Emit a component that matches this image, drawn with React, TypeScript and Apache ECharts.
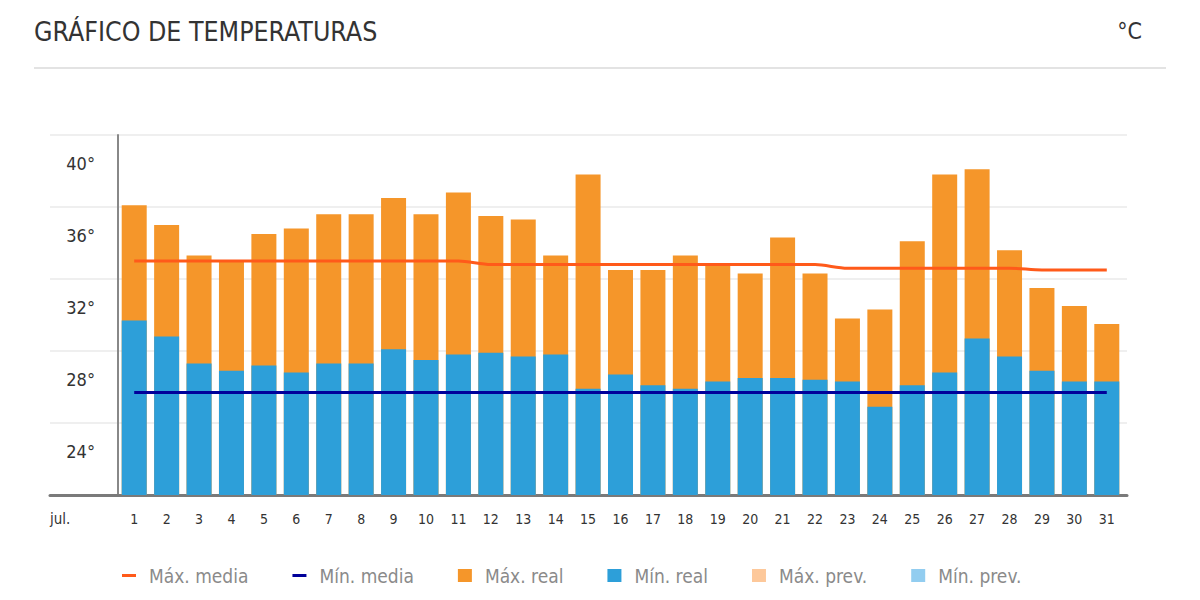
import React, { useEffect, useRef } from "react";
import * as echarts from "echarts";

const days = ["1","2","3","4","5","6","7","8","9","10","11","12","13","14","15","16","17","18","19","20","21","22","23","24","25","26","27","28","29","30","31"];
const maxReal = [36.1,35.0,33.3,33.0,34.5,34.8,35.6,35.6,36.5,35.6,36.8,35.5,35.3,33.3,37.8,32.5,32.5,33.3,32.8,32.3,34.3,32.3,29.8,30.3,34.1,37.8,38.1,33.6,31.5,30.5,29.5];
const minReal = [29.7,28.8,27.3,26.9,27.2,26.8,27.3,27.3,28.1,27.5,27.8,27.9,27.7,27.8,25.9,26.7,26.1,25.9,26.3,26.5,26.5,26.4,26.3,24.9,26.1,26.8,28.7,27.7,26.9,26.3,26.3];
const maxMedia = [33.0,33.0,33.0,33.0,33.0,33.0,33.0,33.0,33.0,33.0,33.0,32.8,32.8,32.8,32.8,32.8,32.8,32.8,32.8,32.8,32.8,32.8,32.6,32.6,32.6,32.6,32.6,32.6,32.5,32.5,32.5];
const minMedia = [25.7,25.7,25.7,25.7,25.7,25.7,25.7,25.7,25.7,25.7,25.7,25.7,25.7,25.7,25.7,25.7,25.7,25.7,25.7,25.7,25.7,25.7,25.7,25.7,25.7,25.7,25.7,25.7,25.7,25.7,25.7];
const maxPrev: number[] = [];
const minPrev: number[] = [];
const yMin = 20;
const yMax = 40;
const yStep = 4;

const FONT = "'DejaVu Sans Condensed', 'Liberation Sans Narrow', sans-serif";
const LINE_ICON = "path://M0,0 L14,0 L14,3 L0,3 Z";

export default function App() {
  const ref = useRef<HTMLDivElement>(null);
  useEffect(() => {
    if (!ref.current) return;
    const chart = echarts.init(ref.current, undefined, { renderer: "svg" });
    chart.setOption({
      animation: false,
      textStyle: { fontFamily: FONT },
      graphic: [
        { type: "text", left: 34, top: 18, style: { text: "GRÁFICO DE TEMPERATURAS", fontSize: 26.5, fill: "#333", fontFamily: FONT } },
        { type: "text", right: 58, top: 19, style: { text: "°C", fontSize: 23, fill: "#333", fontFamily: FONT } },
        { type: "rect", shape: { x: 34, y: 67, width: 1132, height: 2 }, style: { fill: "#e3e3e3" } },
        { type: "text", left: 50, top: 511, style: { text: "jul.", fontSize: 15, fill: "#333", fontFamily: FONT } },
      ],
      legend: {
        left: 117,
        top: 561,
        itemGap: 44,
        itemWidth: 14,
        itemHeight: 13,
        symbolKeepAspect: true,
        textStyle: { color: "#8a8a8a", fontSize: 19, fontFamily: FONT, padding: [0, 0, 0, 8] },
        data: [
          { name: "Máx. media", icon: LINE_ICON },
          { name: "Mín. media", icon: LINE_ICON },
          { name: "Máx. real", icon: "rect" },
          { name: "Mín. real", icon: "rect" },
          { name: "Máx. prev.", icon: "rect" },
          { name: "Mín. prev.", icon: "rect" },
        ],
      },
      grid: [
        { left: 50, right: 73, top: 135, bottom: 105 },
        { left: 118, right: 77, top: 135, bottom: 105 },
      ],
      xAxis: [
        { gridIndex: 0, type: "value", min: 0, max: 1, axisLine: { show: true, onZero: false, lineStyle: { color: "#7a7a7a", width: 3 } }, axisTick: { show: false }, axisLabel: { show: false }, splitLine: { show: false } },
        { gridIndex: 1, type: "category", data: days, axisLine: { show: false }, axisTick: { show: false }, axisLabel: { color: "#333", fontSize: 14, margin: 17, fontFamily: FONT }, splitLine: { show: false } },
      ],
      yAxis: [
        { gridIndex: 0, type: "value", min: yMin, max: yMax, interval: yStep, axisLine: { show: false }, axisTick: { show: false }, axisLabel: { show: false }, splitLine: { show: true, lineStyle: { color: "#efefef", width: 2 } } },
        { gridIndex: 1, type: "value", min: yMin, max: yMax, interval: yStep, axisLine: { show: true, lineStyle: { color: "#888", width: 2 } }, axisTick: { show: false }, splitLine: { show: false },
          axisLabel: { showMinLabel: false, formatter: "{value}°", color: "#333", fontSize: 18, margin: 23, verticalAlign: "top", lineHeight: 56, fontFamily: FONT } },
      ],
      series: [
        { name: "Máx. real", type: "bar", xAxisIndex: 1, yAxisIndex: 1, data: maxReal, barWidth: 25, barGap: "-100%", itemStyle: { color: "#f5962a" } },
        { name: "Mín. real", type: "bar", xAxisIndex: 1, yAxisIndex: 1, data: minReal, barWidth: 25, barGap: "-100%", itemStyle: { color: "#2d9fd9" } },
        { name: "Máx. prev.", type: "bar", xAxisIndex: 1, yAxisIndex: 1, data: maxPrev, barWidth: 25, barGap: "-100%", itemStyle: { color: "#fdc89a" } },
        { name: "Mín. prev.", type: "bar", xAxisIndex: 1, yAxisIndex: 1, data: minPrev, barWidth: 25, barGap: "-100%", itemStyle: { color: "#92cdf0" } },
        { name: "Máx. media", type: "line", xAxisIndex: 1, yAxisIndex: 1, data: maxMedia, z: 5, symbol: "none", smooth: 0.3, color: "#ff5a1a", lineStyle: { color: "#ff5a1a", width: 3 } },
        { name: "Mín. media", type: "line", xAxisIndex: 1, yAxisIndex: 1, data: minMedia, z: 5, symbol: "none", color: "#00009a", lineStyle: { color: "#00009a", width: 3 } },
      ],
    });
    return () => chart.dispose();
  }, []);
  return <div ref={ref} style={{ position: "absolute", left: 0, top: 0, width: 1200, height: 600 }} />;
}
